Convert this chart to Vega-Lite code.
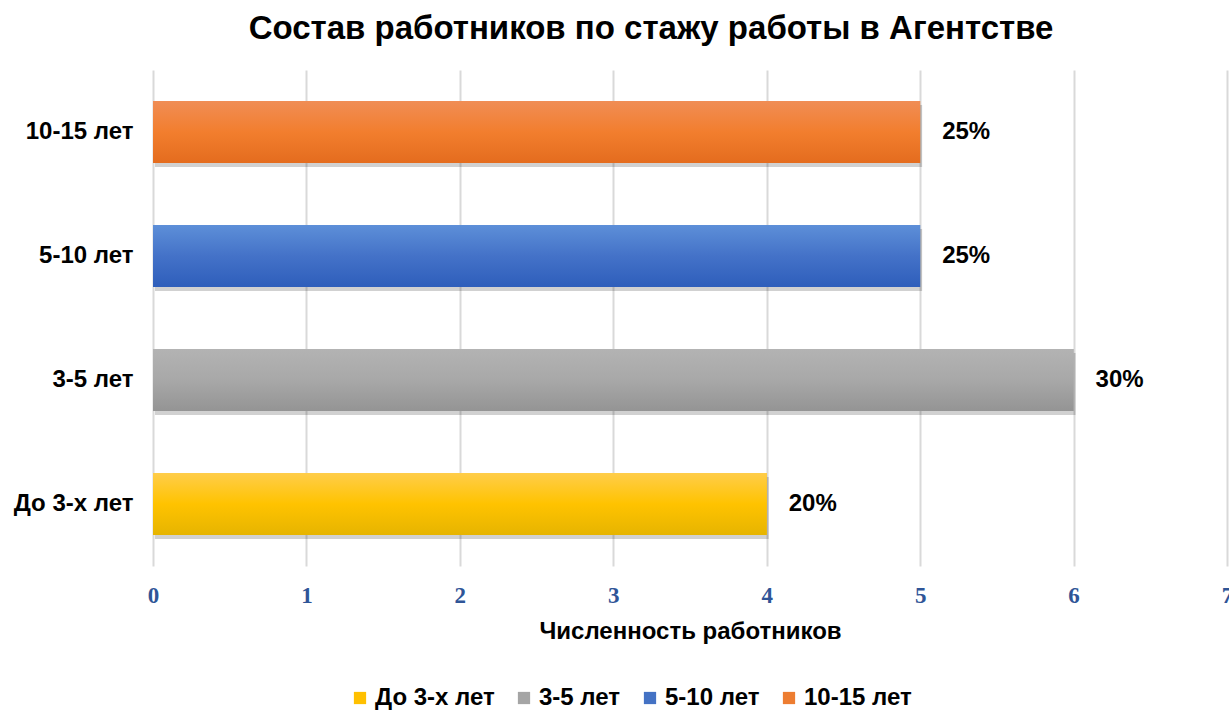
{
  "$schema": "https://vega.github.io/schema/vega-lite/v6.json",
  "autosize": "none",
  "width": 1074,
  "height": 496,
  "padding": {"left": 153, "top": 70, "right": 2, "bottom": 145},
  "background": "white",
  "title": {
    "text": "Состав работников по стажу работы в Агентстве",
    "font": "Liberation Sans",
    "fontSize": 33,
    "fontWeight": "bold",
    "color": "#000000",
    "anchor": "middle",
    "dx": -39,
    "offset": 24
  },
  "config": {
    "view": {"stroke": null},
    "font": "Liberation Sans"
  },
  "data": {
    "values": [
      {"group": "10-15 лет", "count": 5, "label": "25%"},
      {"group": "5-10 лет", "count": 5, "label": "25%"},
      {"group": "3-5 лет", "count": 6, "label": "30%"},
      {"group": "До 3-х лет", "count": 4, "label": "20%"}
    ]
  },
  "encoding": {
    "y": {
      "field": "group",
      "type": "nominal",
      "sort": ["10-15 лет", "5-10 лет", "3-5 лет", "До 3-х лет"],
      "scale": {"paddingInner": 0.5, "paddingOuter": 0.25},
      "axis": {
        "title": null,
        "domain": false,
        "ticks": false,
        "labelFont": "Liberation Sans",
        "labelFontSize": 24,
        "labelFontWeight": "bold",
        "labelColor": "#000000",
        "labelPadding": 20
      }
    },
    "x": {
      "field": "count",
      "type": "quantitative",
      "scale": {"domain": [0, 7], "nice": false},
      "axis": {
        "title": "Численность работников",
        "titleFont": "Liberation Sans",
        "titleFontSize": 24,
        "titleFontWeight": "bold",
        "titleColor": "#000000",
        "titlePadding": 12,
        "values": [0, 1, 2, 3, 4, 5, 6, 7],
        "format": "d",
        "domain": false,
        "ticks": false,
        "grid": true,
        "gridColor": "#D9D9D9",
        "gridWidth": 2,
        "labelFont": "Liberation Serif",
        "labelFontSize": 23,
        "labelFontWeight": "bold",
        "labelColor": "#2F5597",
        "labelPadding": 18,
        "labelFlush": false,
        "labelBound": false
      }
    }
  },
  "layer": [
    {
      "mark": {"type": "bar", "color": "#000000", "opacity": 0.18, "xOffset": 2, "yOffset": 4},
      "encoding": {}
    },
    {
      "mark": {"type": "bar"},
      "encoding": {
        "color": {
          "field": "group",
          "type": "nominal",
          "scale": {
            "domain": ["До 3-х лет", "3-5 лет", "5-10 лет", "10-15 лет"],
            "range": ["#FFC000", "#A5A5A5", "#4472C4", "#ED7D31"]
          },
          "legend": {
            "title": null,
            "orient": "none",
            "direction": "horizontal",
            "legendX": 195,
            "legendY": 616,
            "symbolType": "square",
            "symbolSize": 150,
            "symbolStrokeWidth": 0,
            "labelFont": "Liberation Sans",
            "labelFontSize": 24,
            "labelFontWeight": "bold",
            "labelColor": "#000000",
            "columnPadding": 17,
            "labelOffset": 3
          }
        }
      }
    },
    {
      "transform": [{"filter": "datum.group === 'До 3-х лет'"}],
      "mark": {"type": "bar", "color": {"gradient": "linear", "x1": 0, "y1": 0, "x2": 0, "y2": 1, "stops": [{"offset": 0, "color": "#FFCD4A"}, {"offset": 0.5, "color": "#FFC300"}, {"offset": 1, "color": "#E6B400"}]}}
    },
    {
      "transform": [{"filter": "datum.group === '3-5 лет'"}],
      "mark": {"type": "bar", "color": {"gradient": "linear", "x1": 0, "y1": 0, "x2": 0, "y2": 1, "stops": [{"offset": 0, "color": "#B3B3B3"}, {"offset": 0.5, "color": "#A8A8A8"}, {"offset": 1, "color": "#949494"}]}}
    },
    {
      "transform": [{"filter": "datum.group === '5-10 лет'"}],
      "mark": {"type": "bar", "color": {"gradient": "linear", "x1": 0, "y1": 0, "x2": 0, "y2": 1, "stops": [{"offset": 0, "color": "#5D8FD8"}, {"offset": 0.5, "color": "#4472C8"}, {"offset": 1, "color": "#2E5EBB"}]}}
    },
    {
      "transform": [{"filter": "datum.group === '10-15 лет'"}],
      "mark": {"type": "bar", "color": {"gradient": "linear", "x1": 0, "y1": 0, "x2": 0, "y2": 1, "stops": [{"offset": 0, "color": "#F08D55"}, {"offset": 0.5, "color": "#F27E2E"}, {"offset": 1, "color": "#E46C1E"}]}}
    },
    {
      "mark": {
        "type": "text",
        "align": "left",
        "baseline": "middle",
        "dx": 22,
        "font": "Liberation Sans",
        "fontSize": 24,
        "fontWeight": "bold",
        "color": "#000000"
      },
      "encoding": {"text": {"field": "label"}}
    }
  ]
}
